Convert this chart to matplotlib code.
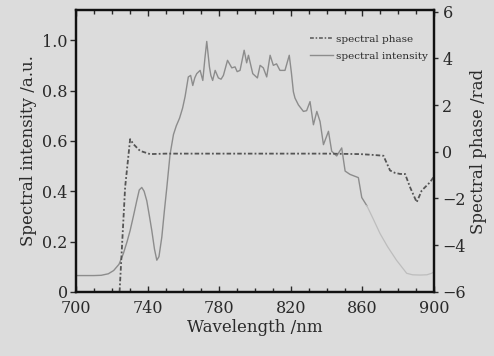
import matplotlib
matplotlib.use('Agg')
import matplotlib.pyplot as plt
from matplotlib.ticker import MultipleLocator
from matplotlib.lines import Line2D

plt.rcParams['font.family'] = ['DejaVu Serif']

# ---- data ----
wl_int = [700, 705, 710, 714, 718, 721, 724, 726.4, 728.5, 730.2, 732, 733.9, 735.3,
          736.7, 738, 739.5, 741, 742.3, 743.8, 745.1, 746.3, 747.9, 749.3, 750.7,
          752.5, 754.4, 756, 757.8, 759.5, 760.9, 762.7, 764, 765.2, 766.3, 767.4,
          769.3, 770.8, 772, 773, 774.5, 775.3, 776.3, 777.7, 779.5, 781, 782.3,
          784.6, 787, 788.8, 790, 791.6, 793.9, 795.3, 796.3, 798.7, 801.3, 802.8,
          804.6, 806.5, 808.4, 810.2, 812, 813.9, 816.7, 819.1, 820.3, 821.4, 822.3,
          824.2, 827, 828.8, 830.7, 832.6, 834.5, 836.3, 838.2, 841, 842.8, 845.6,
          848.4, 850.3, 853, 857.7, 859.6, 862.4]
intensity = [0.065, 0.065, 0.065, 0.066, 0.072, 0.085, 0.11, 0.152, 0.2, 0.244, 0.30,
             0.362, 0.405, 0.415, 0.40, 0.362, 0.30, 0.244, 0.17, 0.126, 0.14, 0.218,
             0.32, 0.415, 0.546, 0.625, 0.66, 0.69, 0.73, 0.776, 0.854, 0.86, 0.82,
             0.85, 0.867, 0.88, 0.84, 0.93, 0.995, 0.894, 0.86, 0.84, 0.88, 0.85,
             0.845, 0.86, 0.92, 0.89, 0.894, 0.875, 0.88, 0.96, 0.91, 0.94, 0.867,
             0.85, 0.9, 0.89, 0.854, 0.94, 0.9, 0.906, 0.88, 0.88, 0.94, 0.87, 0.795,
             0.77, 0.743, 0.717, 0.72, 0.756, 0.664, 0.717, 0.677, 0.585, 0.638,
             0.559, 0.54, 0.572, 0.48, 0.467, 0.454, 0.375, 0.343]

wl_tail = [862.4, 866, 869.8, 874, 879, 884.7, 888, 892, 896, 898.6, 900]
intensity_tail = [0.343, 0.29, 0.232, 0.18, 0.126, 0.074, 0.068, 0.067, 0.068, 0.074, 0.08]

wl_phase = [724.3, 727.4, 730.2, 732, 735.7, 741.3, 750, 780, 810, 840, 858.7,
            865, 871.7, 875.4, 878, 881, 883.8, 886.6, 890.3, 893.1, 897.8, 900]
phase = [-6.0, -1.52, 0.54, 0.33, 0.04, -0.1, -0.08, -0.08, -0.08, -0.08, -0.1,
         -0.13, -0.17, -0.8, -0.9, -0.95, -0.95, -1.52, -2.16, -1.66, -1.3, -1.05]

x_ticks = [700, 740, 780, 820, 860, 900]
y_left_ticks = [0, 0.2, 0.4, 0.6, 0.8, 1.0]
y_left_labels = ['0', '0.2', '0.4', '0.6', '0.8', '1.0']
y_right_ticks = [-6, -4, -2, 0, 2, 4, 6]

bg = '#dcdcdc'
txt = '#2a2a2a'

fig = plt.figure(figsize=(4.94, 3.56), dpi=100, facecolor=bg)
ax = fig.add_axes([0.154, 0.180, 0.7247, 0.792])
ax.set_facecolor(bg)
ax2 = ax.twinx()

ax.plot(wl_int, intensity, color='#8c8c8c', lw=1.0)
ax.plot(wl_tail, intensity_tail, color='#bdbdbd', lw=0.9)
ax2.plot(wl_phase, phase, color='#555555', lw=1.3, linestyle=(0, (2.5, 1.2, 1, 1.2)))

ax.set_xlim(700, 900)
ax.set_ylim(0, 1.12)
ax2.set_ylim(-6, 6.07)

ax.set_xticks(x_ticks)
ax.xaxis.set_minor_locator(MultipleLocator(10))
ax.set_yticks(y_left_ticks)
ax.set_yticklabels(y_left_labels)
ax2.set_yticks(y_right_ticks)
ax2.set_yticklabels([f'{v}'.replace('-', '\u2212') for v in y_right_ticks])

ax.tick_params(axis='x', which='both', direction='in', top=True, colors=txt, labelsize=11.5, pad=6)
ax.tick_params(axis='x', which='major', length=4, width=1)
ax.tick_params(axis='x', which='minor', length=3, width=1)
ax.tick_params(axis='y', direction='out', length=4, width=1, colors=txt, labelsize=11.5, pad=2)
ax2.tick_params(axis='y', direction='out', length=3, width=1, colors=txt, labelsize=11.5, pad=3)

for a in (ax, ax2):
    for s in a.spines.values():
        s.set_linewidth(1.6)
        s.set_color('#111111')

ax.set_xlabel('Wavelength /nm', fontsize=12, color=txt, labelpad=1)
ax.set_ylabel('Spectral intensity /a.u.', fontsize=12, color=txt, labelpad=4)
ax2.set_ylabel('Spectral phase /rad', fontsize=12, color=txt, labelpad=3)

handles = [Line2D([], [], color='#555555', lw=1.1, linestyle=(0, (2.5, 1.2, 1, 1.2))),
           Line2D([], [], color='#8c8c8c', lw=1.0)]
ax2.legend(handles, ['spectral phase', 'spectral intensity'], loc='upper right',
           bbox_to_anchor=(1.01, 0.945), frameon=False, fontsize=7.5,
           handlelength=2.2, handletextpad=0.3, labelspacing=0.7, labelcolor=txt)

fig.savefig('out.png', dpi=100, facecolor=bg)
